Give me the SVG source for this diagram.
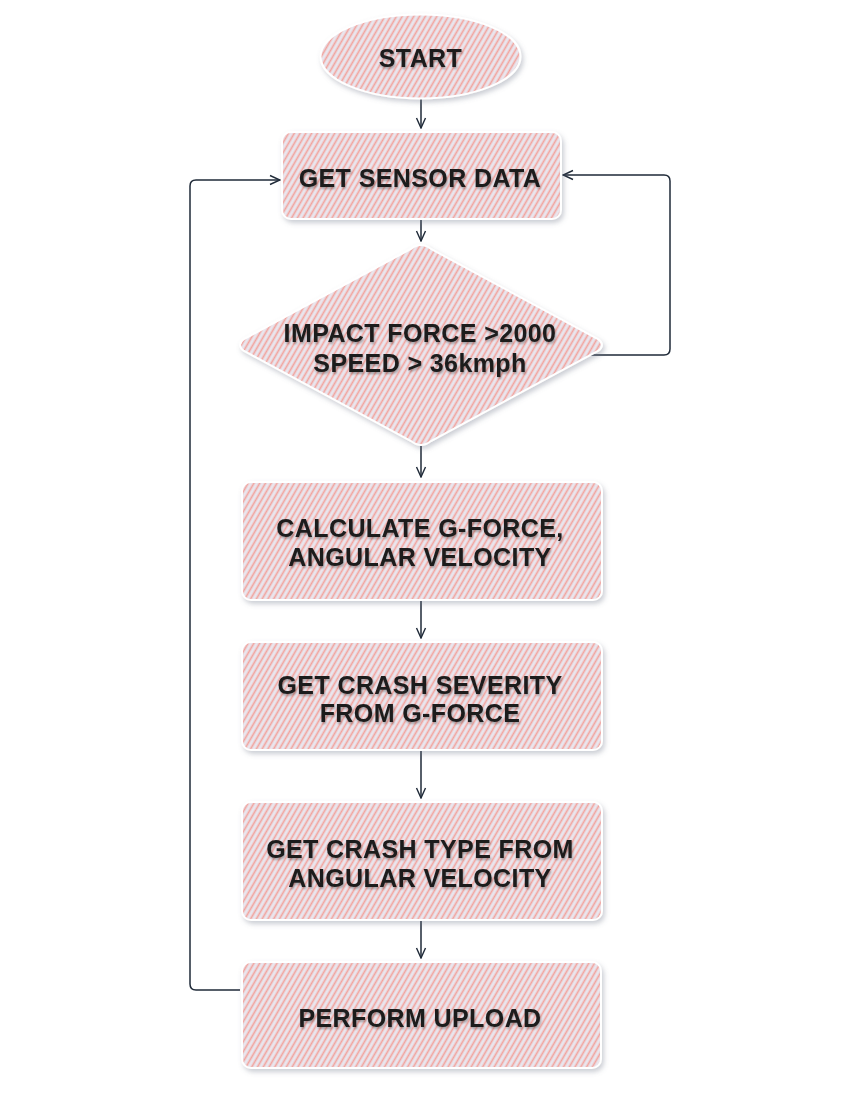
<svg xmlns="http://www.w3.org/2000/svg" width="861" height="1111" viewBox="0 0 861 1111">
<defs>
<pattern id="hatch" width="5" height="10" patternUnits="userSpaceOnUse" patternTransform="rotate(30)">
<rect width="5" height="10" fill="#e9e6ee"/>
<line x1="1.5" y1="0" x2="1.5" y2="10" stroke="#f2a39d" stroke-width="1.7"/>
</pattern>
<filter id="sh" x="-10%" y="-10%" width="125%" height="130%">
<feDropShadow dx="2" dy="3" stdDeviation="2.5" flood-color="#6a7286" flood-opacity="0.35"/>
</filter>
<filter id="tsh" x="-5%" y="-20%" width="110%" height="150%">
<feDropShadow dx="1" dy="2" stdDeviation="1.2" flood-color="#000" flood-opacity="0.3"/>
</filter>
<marker id="arr" viewBox="0 0 12 12" refX="11" refY="6" markerWidth="12" markerHeight="12" markerUnits="userSpaceOnUse" orient="auto">
<path d="M1,1.5 L11,6 L1,10.5" fill="none" stroke="#1f2a38" stroke-width="1.4"/>
</marker>
</defs>
<style>
.shape{fill:url(#hatch);stroke:#ffffff;stroke-width:2;filter:url(#sh)}
.lbl{font-family:"Liberation Sans","Comic Sans MS",sans-serif;font-weight:bold;font-size:25px;fill:#1b1b1b;text-anchor:middle;letter-spacing:0.4px;filter:url(#tsh)}
.con{fill:none;stroke:#1f2a38;stroke-width:1.5;marker-end:url(#arr)}
</style>
<rect width="861" height="1111" fill="#ffffff"/>
<g id="connectors">
<path class="con" d="M421,99 L421,128"/>
<path class="con" d="M421,220 L421,241"/>
<path class="con" d="M421,446 L421,477"/>
<path class="con" d="M421,601 L421,638"/>
<path class="con" d="M421,751 L421,798"/>
<path class="con" d="M421,921 L421,958"/>
<path class="con" d="M548,355 L664,355 Q670,355 670,349 L670,181 Q670,175 664,175 L563,175"/>
<path class="con" d="M240,990 L196,990 Q190,990 190,984 L190,186 Q190,180 196,180 L280,180"/>
</g>
<g id="start">
<ellipse class="shape" cx="420.5" cy="56.5" rx="100" ry="42"/>
<text class="lbl" x="420.5" y="67">START</text>
</g>
<g id="get-sensor-data">
<rect class="shape" x="282" y="132" width="279" height="87" rx="9"/>
<text class="lbl" x="420" y="187">GET SENSOR DATA</text>
</g>
<g id="decision">
<path class="shape" d="M421,245 Q426,245 431,249 L598,339 Q606,345 598,351 L431,441 Q426,445 421,445 Q416,445 411,441 L244,351 Q236,345 244,339 L411,249 Q416,245 421,245 Z"/>
<text class="lbl" x="420" y="342">IMPACT FORCE &gt;2000</text>
<text class="lbl" x="420" y="372">SPEED &gt; 36kmph</text>
</g>
<g id="calculate">
<rect class="shape" x="242" y="482" width="360" height="118" rx="9"/>
<text class="lbl" x="420" y="537">CALCULATE G-FORCE,</text>
<text class="lbl" x="420" y="566">ANGULAR VELOCITY</text>
</g>
<g id="severity">
<rect class="shape" x="242" y="642" width="360" height="108" rx="9"/>
<text class="lbl" x="420" y="694">GET CRASH SEVERITY</text>
<text class="lbl" x="420" y="722">FROM G-FORCE</text>
</g>
<g id="crash-type">
<rect class="shape" x="242" y="802" width="360" height="118" rx="9"/>
<text class="lbl" x="420" y="858">GET CRASH TYPE FROM</text>
<text class="lbl" x="420" y="887">ANGULAR VELOCITY</text>
</g>
<g id="upload">
<rect class="shape" x="242" y="962" width="359" height="106" rx="9"/>
<text class="lbl" x="420" y="1027">PERFORM UPLOAD</text>
</g>
</svg>
